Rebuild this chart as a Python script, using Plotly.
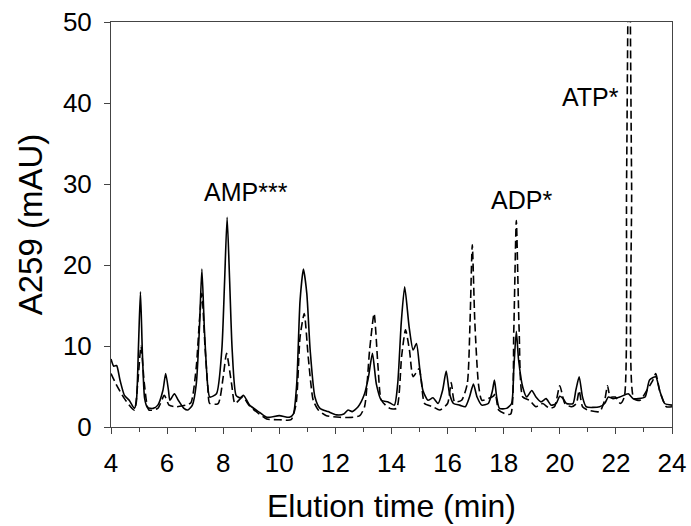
import plotly.graph_objects as go

# solid trace (sample)
t_solid = [4.0, 4.1, 4.2, 4.32, 4.48, 4.65, 4.83, 4.9, 4.98, 5.05, 5.12, 5.2, 5.3, 5.5, 5.67,
           5.85, 5.95, 6.05, 6.1, 6.26, 6.4, 6.6, 6.74, 6.9, 7.04, 7.15, 7.24, 7.33, 7.45, 7.52,
           7.76, 7.95, 8.05, 8.14, 8.23, 8.32, 8.46, 8.6, 8.73, 8.94, 9.3, 9.55, 10.0, 10.36, 10.5,
           10.62, 10.74, 10.86, 10.98, 11.1, 11.27, 11.45, 11.74, 12.04, 12.3, 12.45, 12.6, 12.81,
           13.04, 13.18, 13.32, 13.46, 13.64, 13.88, 14.1, 14.22, 14.35, 14.47, 14.63, 14.77, 14.89,
           15.0, 15.12, 15.3, 15.48, 15.66, 15.82, 15.95, 16.07, 16.21, 16.43, 16.63, 16.78, 16.92,
           17.05, 17.22, 17.45, 17.6, 17.67, 17.75, 17.85, 18.1, 18.28, 18.36, 18.45, 18.53, 18.68,
           18.82, 19.0, 19.15, 19.33, 19.51, 19.69, 19.87, 20.0, 20.12, 20.24, 20.47, 20.57, 20.69,
           20.81, 20.94, 21.42, 21.6, 21.73, 21.9, 22.14, 22.44, 22.62, 22.8, 23.04, 23.2, 23.42,
           23.56, 23.74, 24.0]
a_solid = [8.4, 7.5, 7.6, 5.8, 3.9, 3.3, 2.3, 3.0, 10.0, 16.7, 9.0, 3.5, 2.4, 2.3, 2.7,
           4.5, 6.6, 4.5, 3.3, 4.1, 3.3, 2.3, 2.1, 2.7, 5.3, 12.0, 19.5, 12.0, 5.0, 3.7,
           4.1, 9.5, 18.0, 25.9, 18.0, 9.5, 3.9, 3.6, 3.9, 2.7, 1.8, 1.2, 1.4, 1.2, 1.6,
           5.3, 15.6, 19.5, 16.5, 9.5, 3.7, 2.3, 1.9, 1.5, 1.6, 2.1, 1.9, 2.5,
           4.1, 6.2, 9.1, 5.3, 3.3, 3.1, 2.7, 5.3, 13.0, 17.3, 12.3, 9.5, 10.3,
           7.4, 4.5, 3.3, 3.6, 2.9, 4.5, 6.9, 4.1, 2.9, 2.7, 2.5, 3.7, 5.3,
           3.7, 2.7, 2.9, 4.5, 5.8, 3.7, 2.3, 2.3, 2.9, 7.2, 11.8, 8.3, 4.9,
           3.7, 4.5, 3.7, 3.1, 3.5, 2.7, 2.9, 3.8, 3.5, 2.9, 2.9, 4.5, 6.2,
           3.7, 2.5, 2.5, 2.9, 3.7, 3.5, 3.7, 4.1, 3.5, 3.5, 3.7, 5.8, 6.2,
           4.5, 2.9, 2.7]

# dashed trace (control)
t_dash = [4.0, 4.18, 4.48, 4.83, 4.95, 5.07, 5.19, 5.35, 5.67, 5.9, 6.07, 6.31, 6.67, 6.85,
          7.04, 7.15, 7.24, 7.35, 7.45, 7.52, 7.82, 8.0, 8.12, 8.3, 8.42, 8.7, 8.94, 9.55,
          10.0, 10.42, 10.6, 10.74, 10.89, 11.03, 11.21, 11.39, 11.68, 12.16, 12.63, 12.87,
          13.04, 13.22, 13.38, 13.52, 13.64, 13.94, 14.18, 14.36, 14.5, 14.64, 14.77, 14.98,
          15.06, 15.18, 15.48, 15.72, 16.0, 16.13, 16.25, 16.5, 16.7, 16.8, 16.88, 16.97, 17.1,
          17.22, 17.45, 17.63, 17.7, 17.82, 18.07, 18.25, 18.36, 18.45, 18.55, 18.68, 18.92,
          19.15, 19.39, 19.63, 19.81, 20.0, 20.18, 20.42, 20.59, 20.69, 20.81, 21.0, 21.42,
          21.6, 21.7, 21.8, 21.98, 22.16, 22.3, 22.38, 22.47, 22.56, 22.64, 22.86, 23.1,
          23.32, 23.42, 23.56, 23.8, 24.0]
a_dash = [6.6, 5.3, 3.5, 2.1, 5.3, 10.0, 5.3, 2.1, 2.3, 3.9, 2.7, 2.5, 2.7, 3.0,
          7.4, 13.0, 16.5, 10.0, 5.0, 2.9, 2.9, 6.2, 9.1, 5.3, 2.9, 3.7, 2.6, 1.0,
          0.9, 0.9, 2.9, 11.1, 14.0, 8.7, 3.3, 2.1, 1.4, 1.2, 1.2, 1.4,
          2.5, 9.5, 14.0, 7.4, 3.3, 2.3, 2.3, 8.7, 12.0, 9.5, 6.2, 7.2,
          5.8, 2.9, 2.5, 2.1, 2.9, 5.5, 3.1, 3.3, 5.3, 13.0, 22.5, 13.0, 5.3,
          3.3, 3.5, 3.8, 4.1, 2.1, 1.6, 1.6, 12.0, 25.5, 12.0, 3.7, 3.3,
          2.5, 2.9, 2.3, 2.5, 5.1, 2.9, 2.5, 2.9, 4.5, 2.5, 2.1, 1.9,
          3.3, 5.1, 3.7, 3.7, 2.9, 3.7, 30.0, 66.0, 30.0, 3.5, 3.3, 4.5,
          5.8, 6.6, 4.5, 2.5, 2.5]

peak_labels = ['AMP***', 'ADP*', 'ATP*']
label_t = [8.8, 18.62, 21.08]
label_a = [29.0, 28.0, 40.7]

fig = go.Figure()

fig.add_trace(go.Scatter(x=t_dash, y=a_dash, mode='lines',
                         line=dict(color='black', width=1.6, dash='8px,4px',
                                   shape='spline', smoothing=0.6),
                         showlegend=False))
fig.add_trace(go.Scatter(x=t_solid, y=a_solid, mode='lines',
                         line=dict(color='black', width=1.6,
                                   shape='spline', smoothing=0.6),
                         showlegend=False))

for txt, x, y in zip(peak_labels, label_t, label_a):
    fig.add_annotation(x=x, y=y, text=txt, showarrow=False,
                       font=dict(size=25, color='black'))

fig.update_layout(
    width=691, height=526,
    margin=dict(l=111, r=19, t=22, b=99),
    plot_bgcolor='white', paper_bgcolor='white',
    font=dict(family='Liberation Sans, Arial', color='black'),
)

fig.update_xaxes(
    range=[4, 24], dtick=2, tick0=4, automargin=False,
    ticks='outside', ticklen=6, tickcolor='#444',
    minor=dict(dtick=1, ticks='outside', ticklen=4, tickcolor='#444'),
    showline=True, linecolor='#444', linewidth=1, mirror=True,
    showgrid=False, zeroline=False,
    tickfont=dict(size=26), ticklabelstandoff=7,
    title=dict(text='Elution time (min)', font=dict(size=32), standoff=17),
)
fig.update_yaxes(
    range=[0, 50], dtick=10, automargin=False,
    ticks='outside', ticklen=6, tickcolor='#444',
    showline=True, linecolor='#444', linewidth=1, mirror=True,
    showgrid=False, zeroline=False,
    tickfont=dict(size=26), ticklabelstandoff=7,
    title=dict(text='A259 (mAU)', font=dict(size=33), standoff=10),
)

# page body has a default 8px margin; remove it so the figure sits at 0,0
fig.write_html("out.html", config={'displayModeBar': False},
               post_script="document.body.style.margin='0px';")
